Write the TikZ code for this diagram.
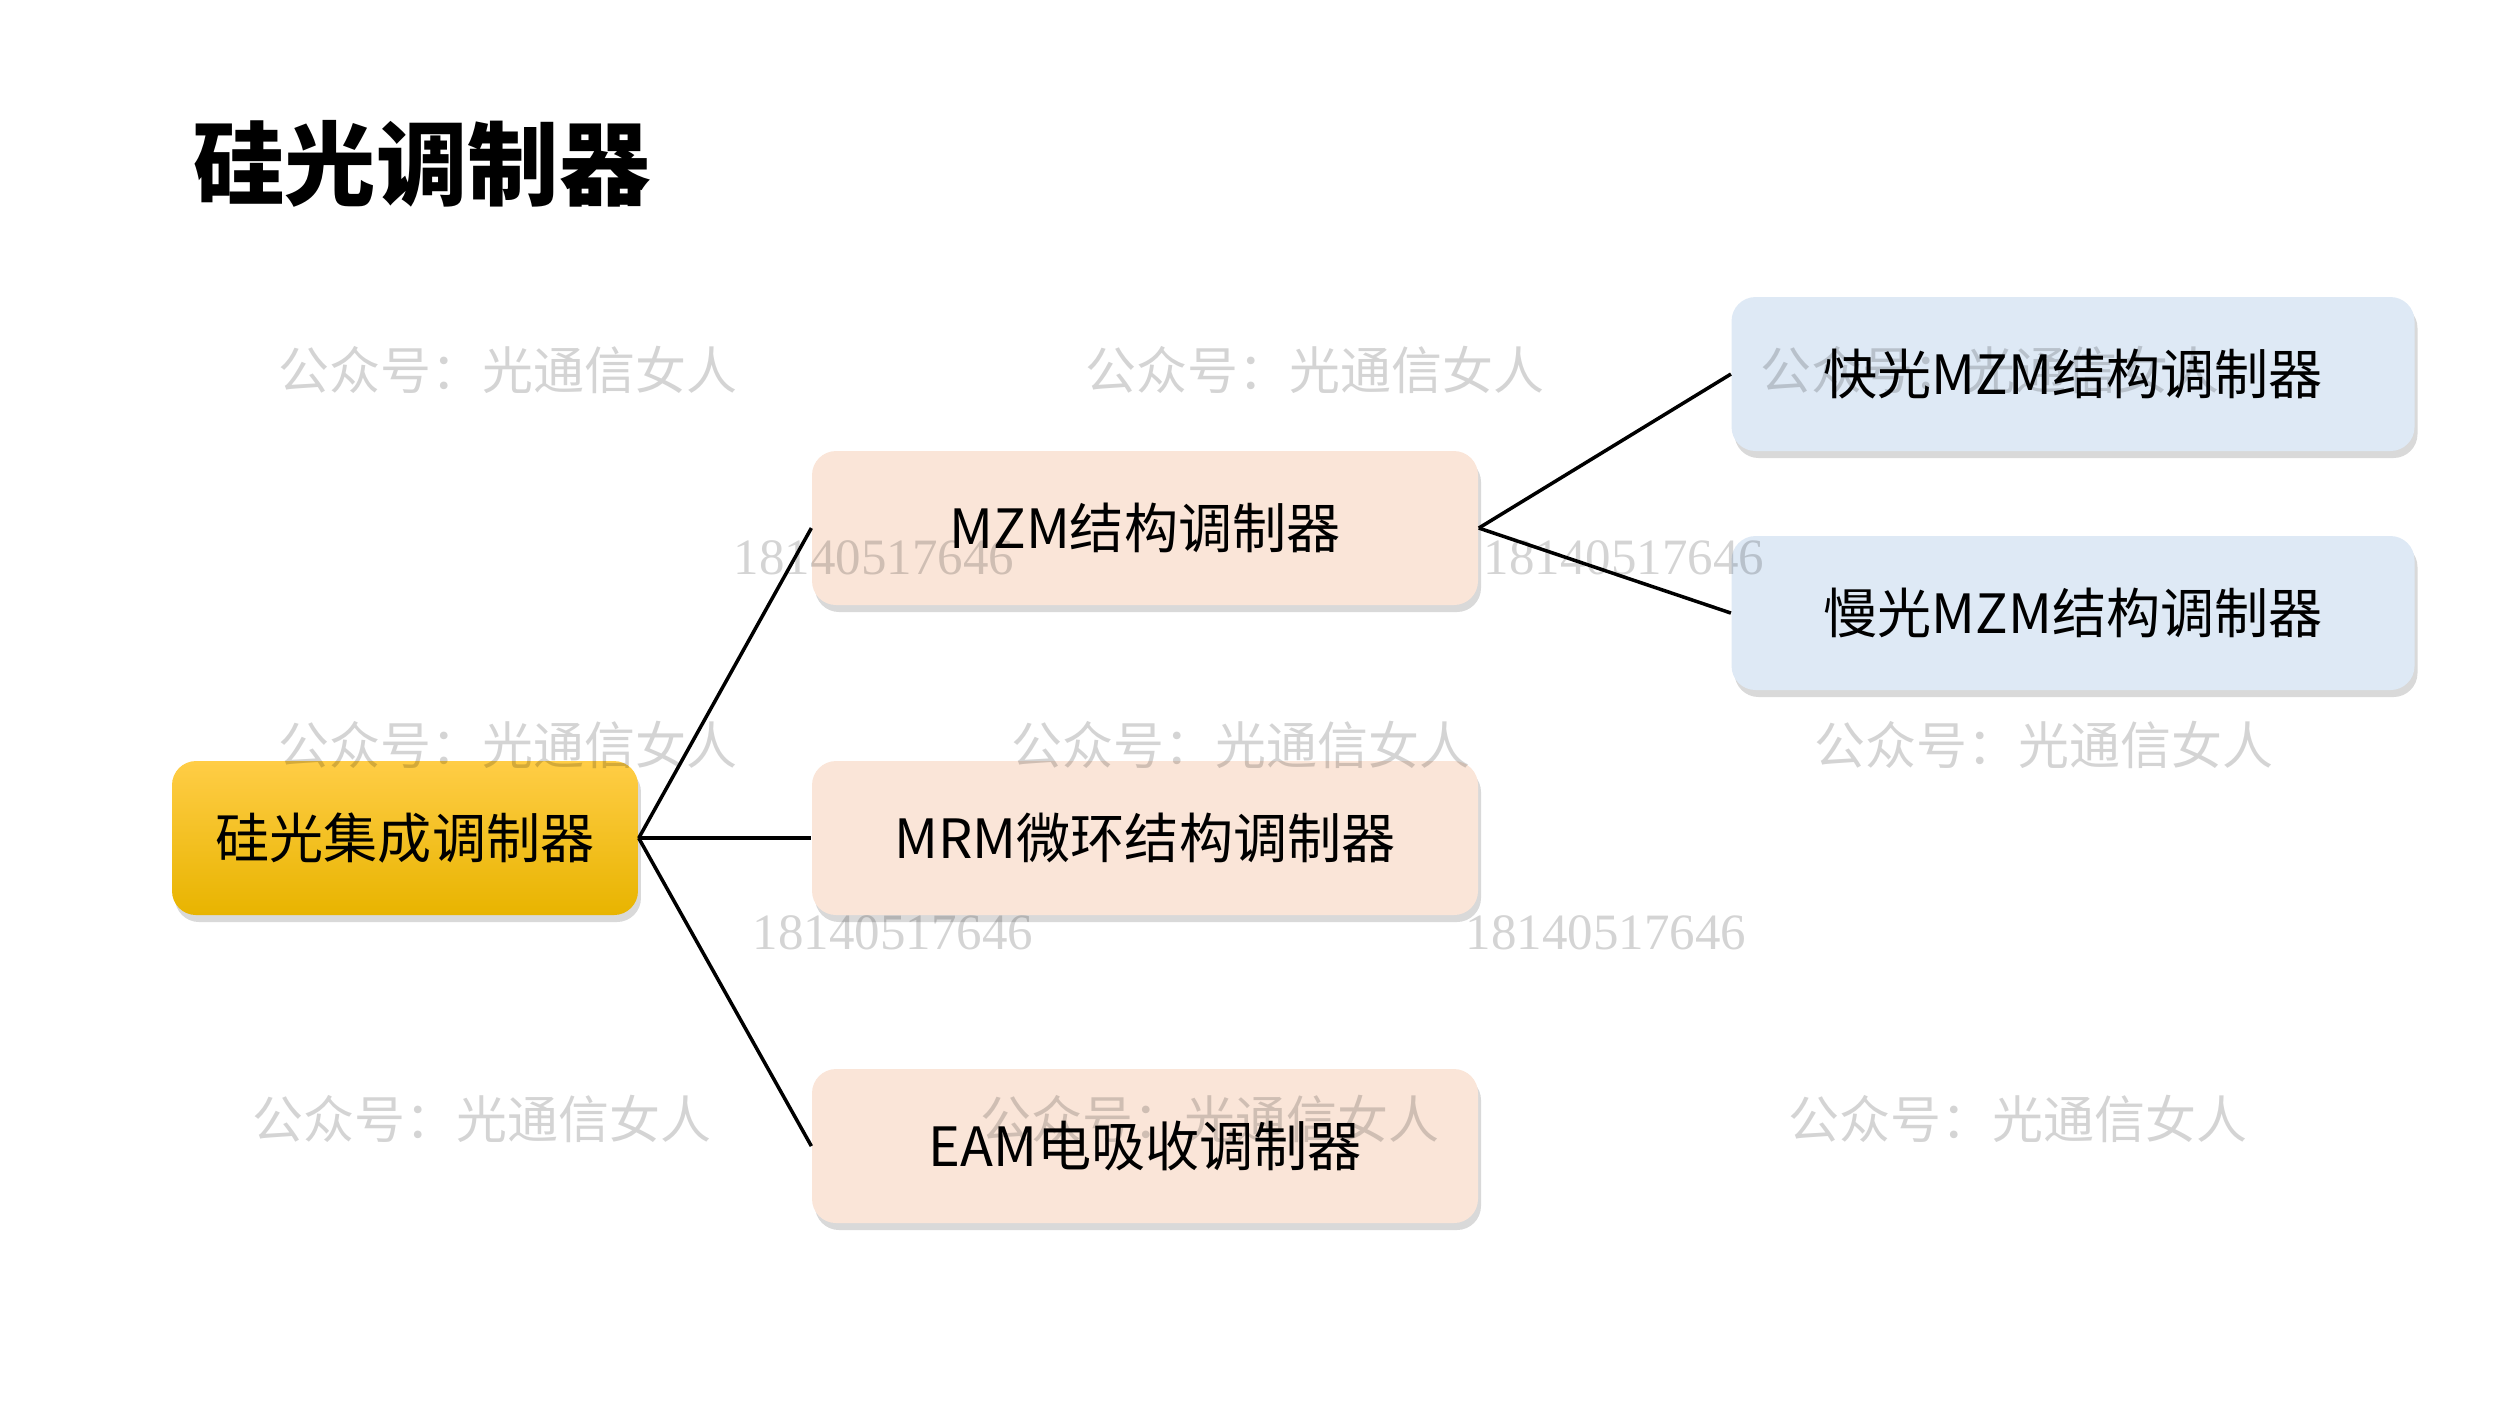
\documentclass[tikz,border=0pt]{standalone}
\usepackage{fontspec}
\setmainfont{Noto Sans CJK SC}
\newfontfamily\wmserif{Liberation Serif}
\usetikzlibrary{shadows}
\definecolor{goldtop}{RGB}{255,205,70}
\definecolor{goldbot}{RGB}{232,180,0}
\definecolor{peach}{RGB}{250,229,216}
\definecolor{paleblue}{RGB}{222,233,245}

\begin{document}
\begin{tikzpicture}[scale=0.1]
        \tikzstyle{every node}+=[inner sep=0pt]
        \tikzstyle{box}=[rounded corners=2.4mm, minimum height=15.4mm, font=\fontsize{15.4}{18}\selectfont, drop shadow={shadow xshift=0.3mm, shadow yshift=-0.7mm, opacity=0.3}]
        \tikzstyle{rootbox}=[box, minimum width=46.6mm, top color=goldtop, bottom color=goldbot]
        \tikzstyle{midbox}=[box, minimum width=66.6mm, fill=peach]
        \tikzstyle{subbox}=[box, minimum width=68.3mm, fill=paleblue]
        \tikzstyle{link}=[black, line width=1pt]
        \tikzstyle{wmtext}=[black, opacity=0.17, font=\fontsize{14.5}{17}\selectfont]
        \tikzstyle{wmnum}=[black, opacity=0.17, font=\wmserif\fontsize{14.5}{17}\selectfont]
        \useasboundingbox (0,0) rectangle (250,-140.6);
        \node [font=\fontsize{26}{30}\selectfont\bfseries] (title) at (42.2,-16.4) {硅光调制器};
        \node [rootbox] (root) at (40.5,-83.8) {硅光集成调制器};
        \node [midbox] (mzm) at (114.5,-52.8) {MZM结构调制器};
        \node [midbox] (mrm) at (114.5,-83.8) {MRM微环结构调制器};
        \node [midbox] (eam) at (114.5,-114.6) {EAM电吸收调制器};
        \node [subbox] (fast) at (207.3,-37.4) {快光MZM结构调制器};
        \node [subbox] (slow) at (207.3,-61.3) {慢光MZM结构调制器};
        \draw [link] (root.east) -- (mzm.west);
        \draw [link] (root.east) -- (mrm.west);
        \draw [link] (root.east) -- (eam.west);
        \draw [link] (mzm.east) -- (fast.west);
        \draw [link] (mzm.east) -- (slow.west);
        % watermarks
        \foreach \x/\y [count=\i] in {50.8/-37, 131.5/-37, 199/-37, 50.8/-74.5, 124.1/-74.5, 204.4/-74.5, 48.2/-111.9, 121/-111.9, 201.8/-111.9}
            \node [wmtext] (wma\i) at (\x,\y) {公众号：光通信女人};
        \foreach \x/\y [count=\i] in {87.4/-55.8, 162.4/-55.8, 89.3/-93.3, 160.6/-93.3}
            \node [wmnum] (wmb\i) at (\x,\y) {18140517646};
\end{tikzpicture}
\end{document}
